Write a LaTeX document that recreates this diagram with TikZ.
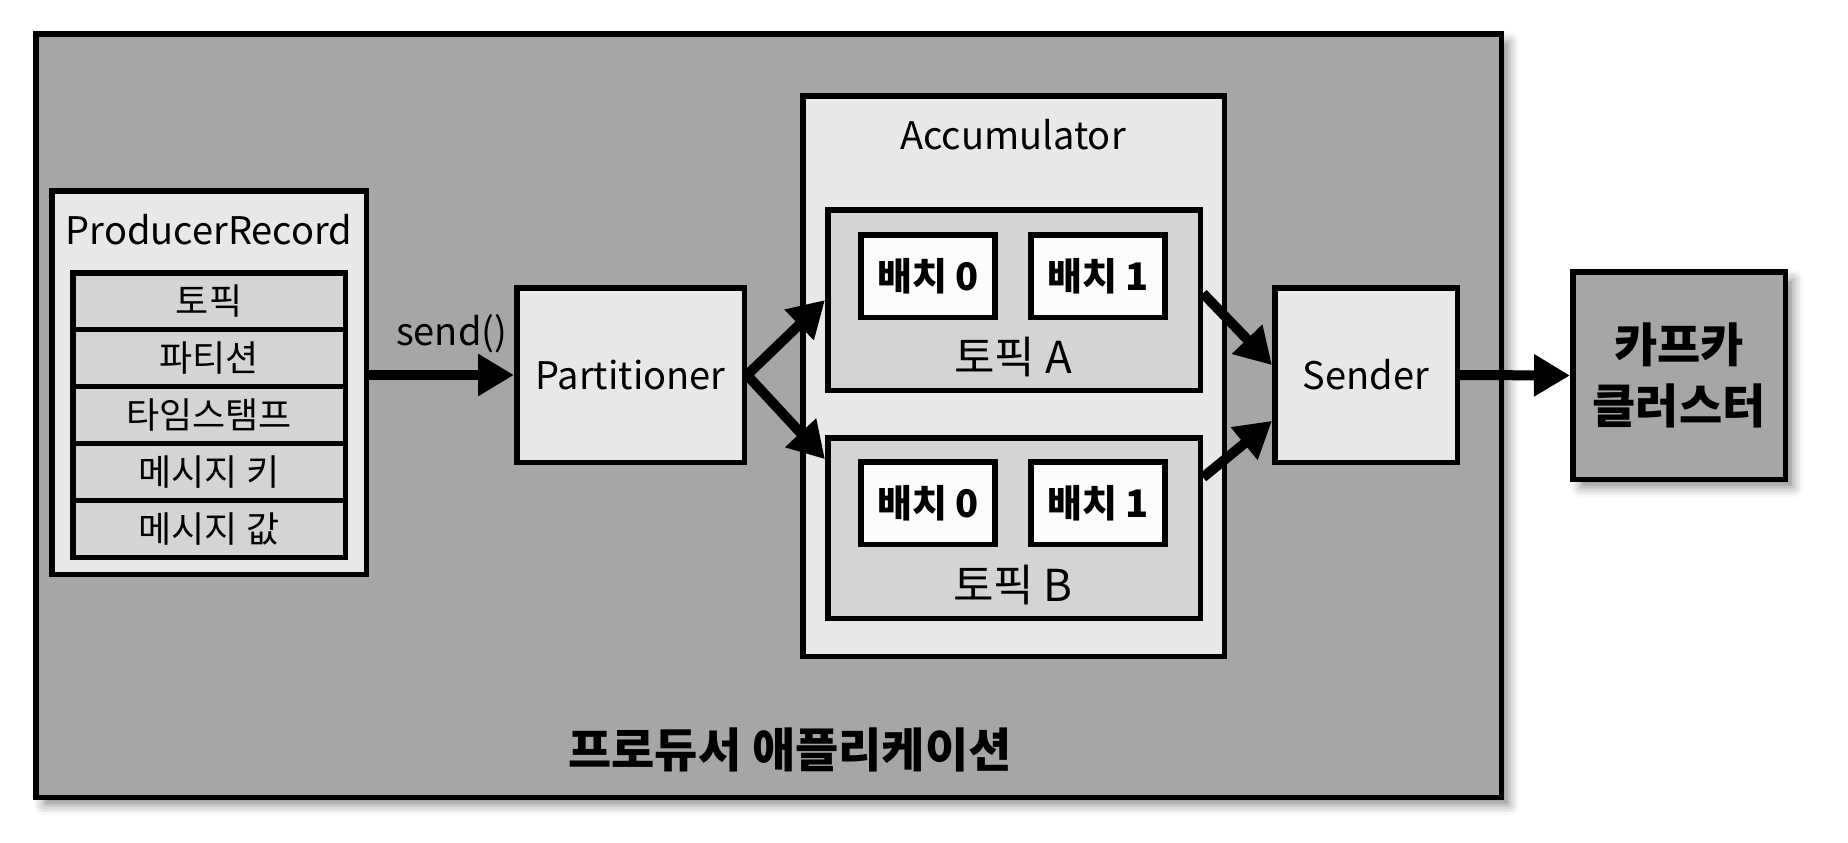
\documentclass[tikz,border=0pt]{standalone}
\usepackage{fontspec}
\setmainfont{Noto Sans CJK KR}
\usetikzlibrary{arrows.meta,shadows.blur}

\definecolor{appgray}{RGB}{166,166,166}
\definecolor{boxlight}{RGB}{232,232,232}
\definecolor{rowgray}{RGB}{212,212,212}
\definecolor{batchwhite}{RGB}{252,252,255}

\tikzset{every picture/.style={line width=2.75pt}}
\tikzset{
  plainbox/.style={draw=black, rectangle, inner sep=0pt},
  shadowed/.style={blur shadow={shadow xshift=4pt, shadow yshift=-4pt, shadow blur radius=5pt, shadow opacity=45}},
  lightbox/.style={plainbox, fill=boxlight},
  fieldbox/.style={plainbox, fill=rowgray, minimum width=136.25pt, minimum height=28.45pt, font=\fontsize{18pt}{21pt}\selectfont},
  topicbox/.style={plainbox, fill=rowgray, minimum width=186.25pt, minimum height=90.25pt},
  batchbox/.style={plainbox, fill=batchwhite, minimum width=67pt, minimum height=41.25pt, font=\bfseries\fontsize{19pt}{22pt}\selectfont},
  labelfont/.style={inner sep=0pt, font=\fontsize{19pt}{22pt}\selectfont},
  topicfont/.style={inner sep=0pt, font=\fontsize{22pt}{26pt}\selectfont},
  boldfont/.style={inner sep=0pt, align=center, font=\bfseries\fontsize{23.5pt}{30.5pt}\selectfont},
  flow/.style={line width=5pt, -{Triangle[length=18pt,width=20pt]}},
}

\begin{document}
\begin{tikzpicture}[x=0.5pt,y=0.5pt,yscale=-1,xscale=1]
        \useasboundingbox (0,0) rectangle (1848,842);
        % Application frame
        \node[plainbox, fill=appgray, shadowed, minimum width=732.75pt, minimum height=381.75pt] (app) at (768.5,415.5) {};
        \node[boldfont] (apptitle) at (790,750) {프로듀서 애플리케이션};
        % ProducerRecord
        \node[lightbox, minimum width=157.25pt, minimum height=191.75pt] (record) at (209,382.5) {};
        \node[labelfont] (recordlabel) at (209,230) {ProducerRecord};
        \foreach \txt [count=\i] in {토픽,파티션,타임스탬프,메시지 키,메시지 값}
            \node[fieldbox] (f\i) at (209,{244.3+56.9*\i}) {\txt};
        % Partitioner
        \node[lightbox, minimum width=113.75pt, minimum height=87.25pt, labelfont] (part) at (630.5,375) {Partitioner};
        % Accumulator
        \node[lightbox, minimum width=210.75pt, minimum height=280.25pt] (acc) at (1013.5,376) {};
        \node[labelfont] (acclabel) at (1013,135) {Accumulator};
        \node[topicbox] (topicA) at (1014,300) {};
        \node[topicfont] (topicAlabel) at (1013,357) {토픽 A};
        \node[batchbox] (a0) at (928,276) {배치 0};
        \node[batchbox] (a1) at (1098,276) {배치 1};
        \node[topicbox] (topicB) at (1014,528) {};
        \node[topicfont] (topicBlabel) at (1013,585) {토픽 B};
        \node[batchbox] (b0) at (928,503) {배치 0};
        \node[batchbox] (b1) at (1098,503) {배치 1};
        % Sender
        \node[lightbox, minimum width=91.25pt, minimum height=87.25pt, labelfont] (sender) at (1366,375) {Sender};
        % Kafka cluster
        \node[plainbox, fill=appgray, shadowed, minimum width=106.25pt, minimum height=103.75pt, boldfont] (kafka) at (1679,375.5) {카프카\\클러스터};
        % Connectors
        \draw[flow] (record.east |- part.west) -- (part.west) node[pos=0.57, yshift=20.5pt, labelfont] (sendlabel) {send()};
        \draw[flow] (part.east) -- (topicA.west);
        \draw[flow] (part.east) -- (topicB.160);
        \draw[flow] (topicA.2) -- (sender.174);
        \draw[flow] (topicB.15) -- (sender.206);
        \draw[flow] (sender.east) -- (kafka.west);
    \end{tikzpicture}
\end{document}
